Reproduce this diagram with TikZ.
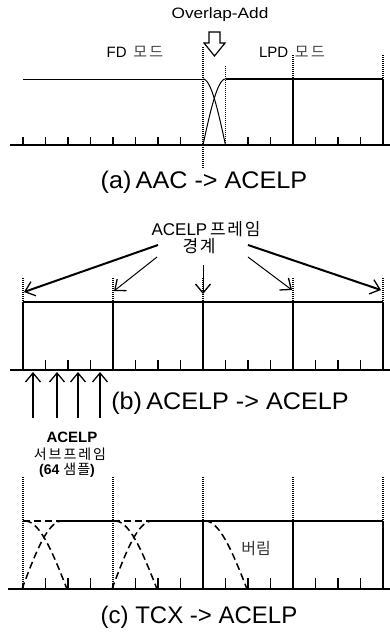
\documentclass[tikz,border=0pt]{standalone}
\usepackage{fontspec}
\setmainfont{Liberation Sans}
\newfontfamily\krfont{Noto Sans CJK KR}
\usetikzlibrary{arrows.meta}

\begin{document}
\begin{tikzpicture}[x=1pt,y=-1pt,
  axisline/.style={line width=1.8pt},
  ticklin/.style={line width=1.5pt},
  frameline/.style={line width=1.7pt},
  dotline/.style={line width=1.1pt, dash pattern=on 1pt off 1pt},
  winfade/.style={line width=1.5pt, dash pattern=on 7pt off 4pt},
  fadecurve/.style={line width=1pt},
  caption/.style={font=\fontsize{24}{27}\selectfont, inner sep=0pt},
  label/.style={font=\fontsize{15}{17}\selectfont, inner sep=0pt},
  kr/.style={font=\krfont\fontsize{15}{17}\selectfont, inner sep=0pt},
  barb/.style={-{Straight Barb[length=9pt,width=15pt,line width=1.3pt]}},
  thickptr/.style={barb, line width=2pt},
  thinptr/.style={barb, line width=1pt},
]
\useasboundingbox (0,0) rectangle (390,633);

% ---------------- (a) AAC -> ACELP ----------------
\coordinate (a0) at (10,145);
\coordinate (a1) at (390,145);
\draw[axisline] (a0) -- (a1);
\foreach \k in {0,...,7,10,11,13,14,15}
  \draw[ticklin] ({23+22.5*\k},145) -- ++(0,-8);
% FD mode and LPD mode signal levels
\draw[line width=1pt] (23,79) -- (203,79);
\draw[frameline] (225.5,79) -- (383,79);
\draw[frameline] (293,79) -- (293,145);
\draw[frameline] (383,79) -- (383,145);
% frame borders
\draw[dotline] (203,47) -- (203,168);
\draw[dotline] (225.5,66) -- (225.5,145);
\draw[dotline] (293,55) -- (293,79);
\draw[dotline] (383,55) -- (383,79);
% cross-fade windows
\draw[fadecurve] plot[domain=0:1,samples=40] ({203+22.5*\x},{145-66*sin(90*\x)});
\draw[fadecurve] plot[domain=0:1,samples=40] ({203+22.5*\x},{79+66*(1-cos(90*\x))});
% hollow arrow
\draw[line width=1.2pt, fill=white, line join=miter]
  (209,32) -- (220,32) -- (220,43) -- (225,43) -- (214.5,56) -- (204,43) -- (209,43) -- cycle;
\node[label, xscale=1.15] (ola) at (220,15) {Overlap-Add};
\node[label] (fd) at (135,52) {FD\, {\krfont\color{black!75}\addfontfeature{LetterSpace=15} 모드}};
\node[label] (lpd) at (292,52) {LPD\, {\krfont\color{black!75}\addfontfeature{LetterSpace=15} 모드}};
\node[caption, xscale=1.05] (capa) at (204,182) {(a)\,AAC -> ACELP};

% ---------------- (b) ACELP -> ACELP ----------------
\draw[frameline] (23,302) -- (383,302);
\foreach \k in {0,...,4} {
  \draw[frameline] ({23+90*\k},302) -- ({23+90*\k},370);
  \draw[dotline] ({23+90*\k},278) -- ({23+90*\k},302);
}
\coordinate (b0) at (10,370);
\coordinate (b1) at (390,370);
\draw[axisline] (b0) -- (b1);
\foreach \k in {1,2,3,5,6,7,9,10,11,13,14,15}
  \draw[ticklin] ({23+22.5*\k},370) -- ++(0,-10);
\node[label, font=\fontsize{17}{19}\selectfont] (bndA) at (206,229)
  {ACELP\,{\krfont\addfontfeature{LetterSpace=10}프레임}};
\node[kr, font=\krfont\fontsize{17}{19}\selectfont\addfontfeature{LetterSpace=10}] (bndB) at (199,246) {경계};
\coordinate (s1) at (158,245);
\coordinate (s2) at (157,257);
\coordinate (s3) at (203,265);
\coordinate (s4) at (248,257);
\coordinate (s5) at (248,245);
\coordinate (e1) at (24,292);
\coordinate (e2) at (114,291);
\coordinate (e3) at (203,294);
\coordinate (e4) at (292,290);
\coordinate (e5) at (381,290);
\draw[thickptr] (s1) -- (e1);
\draw[thinptr] (s2) -- (e2);
\draw[thinptr] (s3) -- (e3);
\draw[thinptr] (s4) -- (e4);
\draw[thickptr] (s5) -- (e5);
% subframe pointers
\foreach \p in {33,57,78,100} {
  \coordinate (u\p) at (\p,418);
  \coordinate (t\p) at (\p,372);
  \draw[thinptr, line width=1.3pt] (u\p) -- (t\p);
}
\node[caption, xscale=1.05] (capb) at (230,403) {(b)\,ACELP -> ACELP};
\node[label, font=\bfseries\fontsize{15}{17}\selectfont] (sfA) at (72,437) {ACELP};
\node[kr, font=\krfont\fontsize{14}{16}\selectfont\addfontfeature{LetterSpace=14}] (sfB) at (70,454) {서브프레임};
\node[label, font=\bfseries\fontsize{14}{16}\selectfont] (sfC) at (67,470)
  {(64 {\krfont\mdseries\addfontfeature{LetterSpace=8}샘플})};

% ---------------- (c) TCX -> ACELP ----------------
\foreach \p in {23,113} \draw[dotline] (\p,477) -- (\p,589);
\foreach \p in {203,293,383} {
  \draw[dotline] (\p,477) -- (\p,521);
  \draw[frameline] (\p,521) -- (\p,589);
}
\draw[frameline] (63,521) -- (113,521);
\draw[frameline] (153,521) -- (383,521);
\draw[winfade] (23,521) -- (63,521);
\draw[winfade] (113,521) -- (153,521);
\coordinate (c0) at (8,589);
\coordinate (c1) at (390,589);
\draw[axisline] (c0) -- (c1);
\foreach \k in {1,2,3,5,6,7,9,10,11,13,14,15}
  \draw[ticklin] ({23+22.5*\k},589) -- ++(0,-11);
\foreach \p in {23,113} \draw[line width=2pt] (\p,589) -- ++(0,-6);
% overlapping TCX windows
\foreach \p in {22,112} {
  \draw[winfade] plot[domain=0:1,samples=40] ({\p+40*\x},{589-68*sin(90*\x)});
  \draw[winfade] plot[domain=0:1,samples=40] ({\p+3+42*\x},{521+68*(1-cos(90*\x))});
}
\draw[winfade] plot[domain=0:1,samples=40] ({205+42*\x},{521+68*(1-cos(90*\x))});
\node[kr, font=\krfont\fontsize{16}{18}\selectfont, text=black!80] (drop) at (256,549) {버림};
\node[caption] (capc) at (199,617) {(c) TCX -> ACELP};
\end{tikzpicture}
\end{document}
